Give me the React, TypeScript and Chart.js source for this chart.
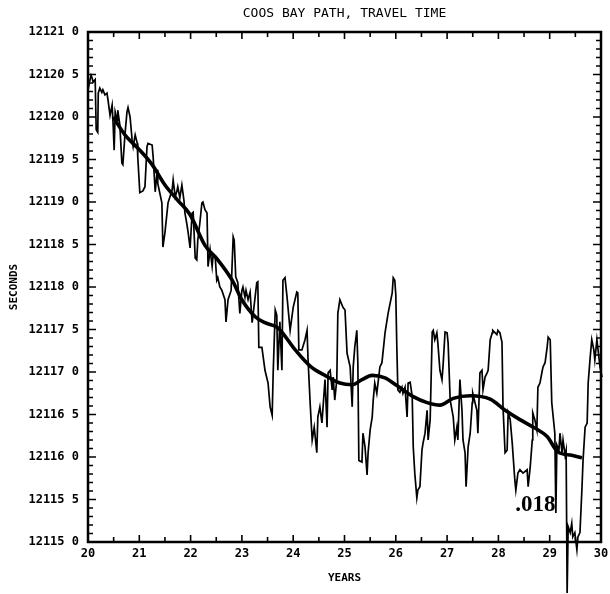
import { useEffect, useRef } from "react";
import { Chart, registerables } from "chart.js";

Chart.register(...registerables);

const TITLE = "COOS BAY PATH, TRAVEL TIME";
const X_TITLE = "YEARS";
const Y_TITLE = "SECONDS";
const ANNOTATION = ".018";
const ANNOTATION_AT = { x: 28.33, y: 12115.36 };

const X_MIN = 20;
const X_MAX = 30;
const Y_MIN = 12115;
const Y_MAX = 12121;

const rawYears = [
  20.0, 20.04, 20.06, 20.08, 20.1, 20.14, 20.16, 20.19, 20.2, 20.23, 20.27, 20.29, 20.33, 20.37, 20.39, 20.43,
  20.47, 20.49, 20.51, 20.53, 20.57, 20.58, 20.62, 20.66, 20.68, 20.72, 20.76, 20.78, 20.82, 20.86, 20.88, 20.92,
  20.96, 20.97, 21.01, 21.07, 21.11, 21.15, 21.17, 21.25, 21.27, 21.31, 21.35, 21.36, 21.44, 21.46, 21.5, 21.56,
  21.64, 21.66, 21.7, 21.73, 21.75, 21.79, 21.83, 21.87, 21.89, 21.93, 21.95, 21.99, 22.03, 22.05, 22.09, 22.12,
  22.14, 22.18, 22.22, 22.24, 22.28, 22.32, 22.34, 22.38, 22.42, 22.44, 22.48, 22.51, 22.53, 22.57, 22.61, 22.67,
  22.69, 22.73, 22.79, 22.83, 22.85, 22.88, 22.92, 22.96, 23.0, 23.02, 23.06, 23.08, 23.12, 23.16, 23.2, 23.24,
  23.29, 23.31, 23.33, 23.39, 23.45, 23.51, 23.55, 23.59, 23.61, 23.65, 23.68, 23.7, 23.74, 23.78, 23.8, 23.84,
  23.88, 23.94, 24.0, 24.07, 24.09, 24.11, 24.17, 24.23, 24.27, 24.29, 24.33, 24.37, 24.41, 24.46, 24.48, 24.52,
  24.56, 24.62, 24.66, 24.68, 24.72, 24.76, 24.78, 24.81, 24.85, 24.87, 24.91, 24.97, 25.01, 25.05, 25.11, 25.15,
  25.17, 25.2, 25.24, 25.26, 25.28, 25.34, 25.36, 25.4, 25.44, 25.46, 25.5, 25.54, 25.56, 25.59, 25.63, 25.69,
  25.73, 25.79, 25.85, 25.93, 25.95, 25.98, 26.0, 26.02, 26.04, 26.08, 26.12, 26.14, 26.18, 26.22, 26.24, 26.28,
  26.32, 26.34, 26.37, 26.41, 26.43, 26.47, 26.51, 26.53, 26.57, 26.61, 26.63, 26.67, 26.71, 26.73, 26.76, 26.8,
  26.82, 26.86, 26.9, 26.92, 26.96, 27.0, 27.02, 27.06, 27.12, 27.15, 27.19, 27.21, 27.25, 27.29, 27.31, 27.35,
  27.37, 27.41, 27.45, 27.49, 27.5, 27.58, 27.6, 27.64, 27.68, 27.7, 27.74, 27.78, 27.8, 27.84, 27.88, 27.89,
  27.97, 27.99, 28.03, 28.07, 28.09, 28.13, 28.17, 28.19, 28.23, 28.27, 28.28, 28.32, 28.34, 28.38, 28.42, 28.48,
  28.56, 28.58, 28.62, 28.66, 28.67, 28.71, 28.75, 28.77, 28.81, 28.85, 28.87, 28.91, 28.95, 28.97, 29.01, 29.04,
  29.1, 29.12, 29.14, 29.18, 29.2, 29.24, 29.26, 29.3, 29.32, 29.34, 29.36, 29.4, 29.43, 29.45, 29.49, 29.53,
  29.55, 29.59, 29.63, 29.65, 29.69, 29.73, 29.75, 29.79, 29.82, 29.86, 29.88, 29.92, 29.98, 30.02,
];

const rawSeconds = [
  12120.32, 12120.44, 12120.49, 12120.46, 12120.41, 12120.44, 12119.85, 12119.82, 12120.28, 12120.34, 12120.29, 12120.32, 12120.26, 12120.28, 12120.2, 12120.02,
  12120.14, 12119.91, 12119.61, 12120.06, 12119.96, 12120.08, 12119.91, 12119.46, 12119.44, 12119.79, 12120.06, 12120.11, 12120.0, 12119.73, 12119.65, 12119.79,
  12119.69, 12119.53, 12119.11, 12119.13, 12119.18, 12119.65, 12119.69, 12119.67, 12119.53, 12119.12, 12119.38, 12119.22, 12118.99, 12118.47, 12118.64, 12118.99,
  12119.14, 12119.26, 12119.06, 12119.12, 12119.18, 12119.05, 12119.2, 12119.02, 12118.87, 12118.73, 12118.65, 12118.46, 12118.87, 12118.88, 12118.34, 12118.32,
  12118.55, 12118.75, 12118.99, 12119.0, 12118.91, 12118.87, 12118.24, 12118.44, 12118.24, 12118.38, 12118.35, 12118.08, 12118.11, 12118.0, 12117.96, 12117.85,
  12117.59, 12117.85, 12117.96, 12118.59, 12118.55, 12118.12, 12118.05, 12117.69, 12117.96, 12118.0, 12117.88, 12117.96, 12117.85, 12117.94, 12117.58, 12117.79,
  12118.05, 12118.06, 12117.29, 12117.29, 12117.02, 12116.87, 12116.59, 12116.49, 12116.99, 12117.73, 12117.67, 12117.02, 12117.59, 12117.02, 12118.08, 12118.11,
  12117.88, 12117.49, 12117.76, 12117.94, 12117.93, 12117.26, 12117.26, 12117.38, 12117.49, 12117.14, 12116.64, 12116.2, 12116.35, 12116.05, 12116.47, 12116.59,
  12116.4, 12116.91, 12116.35, 12116.99, 12117.02, 12116.79, 12116.94, 12116.67, 12116.91, 12117.69, 12117.85, 12117.76, 12117.73, 12117.22, 12117.06, 12116.59,
  12117.06, 12117.29, 12117.49, 12117.11, 12115.96, 12115.94, 12116.28, 12116.12, 12115.79, 12116.05, 12116.32, 12116.47, 12116.67, 12116.87, 12116.75, 12117.06,
  12117.11, 12117.46, 12117.69, 12117.93, 12118.11, 12118.08, 12117.91, 12117.29, 12116.79, 12116.76, 12116.82, 12116.75, 12116.82, 12116.47, 12116.87, 12116.88,
  12116.71, 12116.12, 12115.81, 12115.52, 12115.61, 12115.65, 12116.08, 12116.16, 12116.28, 12116.55, 12116.2, 12116.44, 12117.47, 12117.49, 12117.38, 12117.46,
  12117.34, 12117.02, 12116.91, 12117.06, 12117.47, 12117.46, 12117.34, 12116.67, 12116.47, 12116.2, 12116.35, 12116.2, 12116.91, 12116.55, 12116.2, 12116.05,
  12115.65, 12116.12, 12116.28, 12116.64, 12116.75, 12116.55, 12116.28, 12116.99, 12117.02, 12116.79, 12116.94, 12116.99, 12117.02, 12117.38, 12117.46, 12117.49,
  12117.44, 12117.49, 12117.46, 12117.35, 12116.59, 12116.05, 12116.08, 12116.52, 12116.44, 12116.16, 12116.16, 12115.73, 12115.61, 12115.81, 12115.85, 12115.81,
  12115.85, 12115.65, 12115.88, 12116.2, 12116.52, 12116.44, 12116.32, 12116.82, 12116.87, 12117.0, 12117.06, 12117.11, 12117.29, 12117.41, 12117.38, 12116.64,
  12116.28, 12115.34, 12116.14, 12116.08, 12116.28, 12116.05, 12116.2, 12116.02, 12116.08, 12114.4, 12115.18, 12115.11, 12115.22, 12115.06, 12115.11, 12114.91,
  12115.06, 12115.11, 12115.65, 12115.96, 12116.35, 12116.4, 12116.87, 12117.18, 12117.38, 12117.26, 12117.14, 12117.38, 12117.06, 12116.94,
];

const trendYears = [
  20.49, 20.72, 21.01, 21.25, 21.5, 21.75, 21.99, 22.28, 22.53, 22.81, 23.0, 23.26, 23.45, 23.7, 24.04, 24.33,
  24.62, 24.91, 25.15, 25.34, 25.54, 25.79, 26.02, 26.34, 26.61, 26.86, 27.12, 27.45, 27.84, 28.13, 28.42, 28.71,
  28.95, 29.16, 29.43, 29.63,
];

const trendSeconds = [
  12120.0, 12119.79, 12119.61, 12119.44, 12119.2, 12119.02, 12118.85, 12118.49, 12118.32, 12118.08, 12117.85, 12117.65, 12117.58, 12117.52, 12117.26, 12117.07,
  12116.96, 12116.87, 12116.85, 12116.91, 12116.96, 12116.93, 12116.84, 12116.71, 12116.64, 12116.61, 12116.69, 12116.72, 12116.68, 12116.55, 12116.44, 12116.34,
  12116.24, 12116.06, 12116.02, 12115.99,
];

const MONO = "'DejaVu Sans Mono', monospace";

function formatSeconds(v: number): string {
  const whole = Math.floor(v + 1e-6);
  const tenth = Math.round((v - whole) * 10);
  return `${whole} ${tenth}`;
}

const framePlugin = {
  id: "frame",
  beforeDatasetsDraw(chart: any) {
    const { ctx, chartArea: a, scales } = chart;
    const xs = scales.x;
    const ys = scales.y;
    ctx.save();
    ctx.strokeStyle = "#000";
    ctx.lineWidth = 2.5;
    ctx.strokeRect(a.left, a.top, a.right - a.left, a.bottom - a.top);
    ctx.lineWidth = 1.6;
    ctx.beginPath();
    const ySteps = Math.round((Y_MAX - Y_MIN) * 10);
    for (let i = 0; i <= ySteps; i++) {
      const py = ys.getPixelForValue(Y_MIN + i * 0.1);
      const len = i % 5 === 0 ? 8 : 5;
      ctx.moveTo(a.left, py);
      ctx.lineTo(a.left + len, py);
      ctx.moveTo(a.right, py);
      ctx.lineTo(a.right - len, py);
    }
    const xSteps = Math.round((X_MAX - X_MIN) * 2);
    for (let i = 0; i <= xSteps; i++) {
      const px = xs.getPixelForValue(X_MIN + i * 0.5);
      const len = i % 2 === 0 ? 7 : 5;
      ctx.moveTo(px, a.bottom);
      ctx.lineTo(px, a.bottom - len);
      ctx.moveTo(px, a.top);
      ctx.lineTo(px, a.top + len);
    }
    ctx.stroke();
    ctx.restore();
  },
  afterDraw(chart: any) {
    const { ctx, chartArea: a, scales } = chart;
    const cx = (a.left + a.right) / 2;
    ctx.save();
    ctx.fillStyle = "#000";
    ctx.textAlign = "center";
    ctx.textBaseline = "middle";
    ctx.font = `13px ${MONO}`;
    ctx.fillText(TITLE, cx, 14);
    ctx.font = `bold 11px ${MONO}`;
    ctx.fillText(X_TITLE, cx, 578);
    ctx.save();
    ctx.translate(14, (a.top + a.bottom) / 2);
    ctx.rotate(-Math.PI / 2);
    ctx.fillText(Y_TITLE, 0, 0);
    ctx.restore();
    ctx.font = "bold 23px 'Liberation Serif', serif";
    ctx.textAlign = "left";
    ctx.textBaseline = "alphabetic";
    ctx.fillText(
      ANNOTATION,
      scales.x.getPixelForValue(ANNOTATION_AT.x),
      scales.y.getPixelForValue(ANNOTATION_AT.y)
    );
    ctx.restore();
  },
};

export default function App() {
  const ref = useRef<HTMLCanvasElement | null>(null);

  useEffect(() => {
    if (!ref.current) return;
    const raw = rawYears.map((x, i) => ({ x, y: rawSeconds[i] }));
    const trend = trendYears.map((x, i) => ({ x, y: trendSeconds[i] }));
    const chart = new Chart(ref.current, {
      type: "line",
      data: {
        datasets: [
          {
            label: "Travel time",
            data: raw,
            borderColor: "#000",
            borderWidth: 1.7,
            pointRadius: 0,
            tension: 0,
            clip: false,
          },
          {
            label: "Trend",
            data: trend,
            borderColor: "#000",
            borderWidth: 3.6,
            pointRadius: 0,
            tension: 0.4,
            cubicInterpolationMode: "monotone",
          },
        ],
      },
      options: {
        animation: false,
        responsive: false,
        devicePixelRatio: 1,
        layout: { padding: { left: 0, right: 9, top: 32, bottom: 0 } },
        plugins: {
          legend: { display: false },
          tooltip: { enabled: false },
          title: { display: false },
        },
        scales: {
          x: {
            type: "linear",
            min: X_MIN,
            max: X_MAX,
            grid: { display: false, drawTicks: false },
            border: { display: false },
            ticks: {
              stepSize: 1,
              padding: 5,
              color: "#000",
              font: { family: MONO, size: 12, weight: "bold" },
              callback: (v: any) => String(v),
              maxRotation: 0,
            },
            afterFit: (s: any) => {
              s.height = 52;
              s.paddingLeft = 0;
              s.paddingRight = 0;
            },
          },
          y: {
            type: "linear",
            min: Y_MIN,
            max: Y_MAX,
            grid: { display: false, drawTicks: false },
            border: { display: false },
            ticks: {
              stepSize: 0.5,
              padding: 9,
              color: "#000",
              font: { family: MONO, size: 12, weight: "bold" },
              callback: (v: any) => formatSeconds(Number(v)),
            },
            afterFit: (s: any) => {
              s.width = 88;
              s.paddingTop = 0;
              s.paddingBottom = 0;
            },
          },
        },
      },
      plugins: [framePlugin],
    });
    return () => chart.destroy();
  }, []);

  return (
    <div style={{ position: "fixed", left: 0, top: 0, width: 610, height: 594, background: "#fff" }}>
      <canvas ref={ref} width={610} height={594} style={{ width: 610, height: 594, display: "block" }} />
    </div>
  );
}
